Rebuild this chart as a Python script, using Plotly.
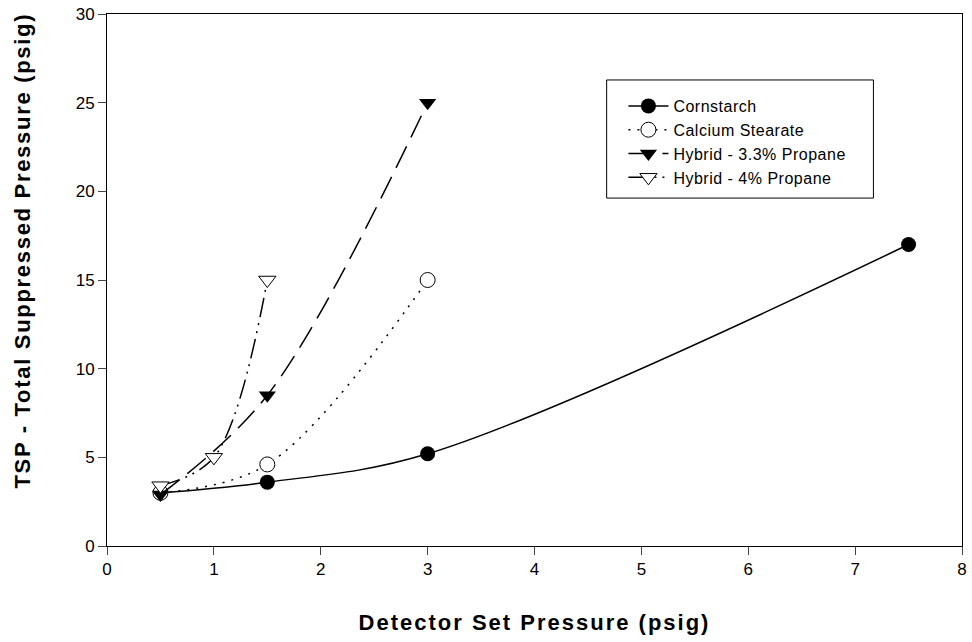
import plotly.graph_objects as go

corn_x = [0.5, 1.5, 3.0, 7.5]
corn_y = [3.0, 3.6, 5.2, 17.0]
cast_x = [0.5, 1.5, 3.0]
cast_y = [3.0, 4.6, 15.0]
hyb33_x = [0.5, 1.5, 3.0]
hyb33_y = [2.9, 8.5, 25.0]
hyb4_x = [0.5, 1.0, 1.5]
hyb4_y = [3.4, 5.0, 15.0]

names = ["Cornstarch", "Calcium Stearate", "Hybrid - 3.3% Propane", "Hybrid - 4% Propane"]

font = "Arial, Liberation Sans, sans-serif"

def sp(t, ls):
    return f'<span style="letter-spacing:{ls}px">{t}</span>'

fig = go.Figure()
fig.add_trace(go.Scatter(x=corn_x, y=corn_y, name=sp(names[0], 0.5), mode="lines+markers",
    line=dict(color="black", width=1.5, shape="spline", smoothing=1.0),
    marker=dict(symbol="circle", size=15, color="black")))
fig.add_trace(go.Scatter(x=cast_x, y=cast_y, name=sp(names[1], 0.5), mode="lines+markers",
    line=dict(color="black", width=1.5, shape="spline", smoothing=1.0, dash="2px,7px"),
    marker=dict(symbol="circle", size=15, color="white", line=dict(width=1, color="black"))))
fig.add_trace(go.Scatter(x=hyb33_x, y=hyb33_y, name=sp(names[2], 0.5), mode="lines+markers",
    line=dict(color="black", width=1.5, shape="spline", smoothing=1.0, dash="24px,10px"),
    marker=dict(symbol="triangle-down", size=15, color="black")))
fig.add_trace(go.Scatter(x=hyb4_x, y=hyb4_y, name=sp(names[3], 0.5), mode="lines+markers",
    line=dict(color="black", width=1.5, shape="spline", smoothing=1.0, dash="20px,6px,2px,6px,2px,6px"),
    marker=dict(symbol="triangle-down", size=15, color="white", line=dict(width=1, color="black"))))

fig.add_shape(type="rect", xref="paper", yref="paper", x0=0.5844, x1=0.8964, y0=0.654, y1=0.876,
              line=dict(color="black", width=1), fillcolor="white", layer="above")

fig.add_annotation(text="<b>" + sp("TSP - Total Suppressed Pressure (psig)", 1.7) + "</b>",
                   xref="paper", yref="paper", x=-0.099, y=0.556, xanchor="center", yanchor="middle",
                   textangle=-90, showarrow=False, font=dict(size=22))

fig.update_layout(
    width=972, height=642, plot_bgcolor="white", paper_bgcolor="white",
    margin=dict(l=107, r=5, t=14, b=96),
    font=dict(family=font, size=17, color="black"),
    showlegend=True,
    legend=dict(x=0.604, y=0.859, xanchor="left", yanchor="top", borderwidth=0,
                bgcolor="rgba(0,0,0,0)", font=dict(size=16), tracegroupgap=0, itemwidth=40),
    xaxis=dict(range=[0, 8], dtick=1, ticks="outside", ticklen=8, showline=True, linecolor="black",
               mirror=True, showgrid=False, zeroline=False,
               title=dict(text="<b>" + sp("Detector Set Pressure (psig)", 2) + "</b>", font=dict(size=22), standoff=36)),
    yaxis=dict(range=[0, 30], dtick=5, ticks="outside", ticklen=8, showline=True, linecolor="black",
               mirror=True, showgrid=False, zeroline=False),
)
fig.write_html("out.html")
